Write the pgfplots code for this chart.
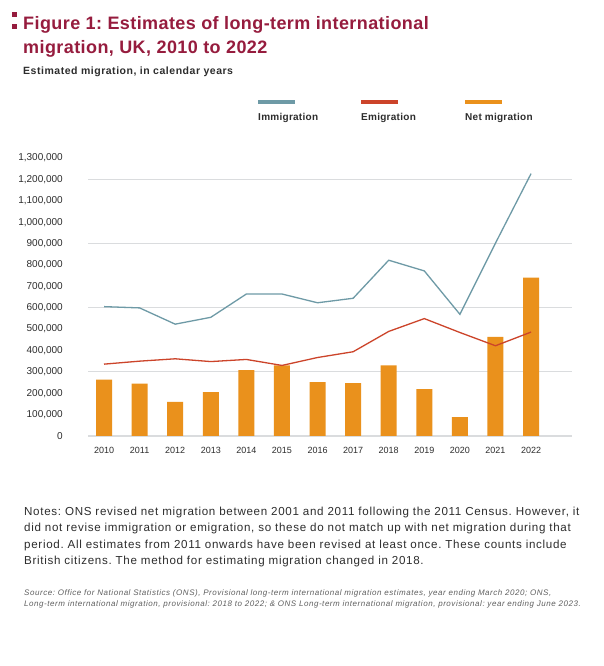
\documentclass[border=0pt]{standalone}
\usepackage{pgfplots}
\pgfplotsset{compat=1.18}
\usepackage{fontspec}
\setmainfont{Liberation Sans}
\definecolor{titlered}{RGB}{150,28,62}
\definecolor{immig}{RGB}{110,154,166}
\definecolor{emig}{RGB}{204,68,42}
\definecolor{netm}{RGB}{234,145,28}
\definecolor{gridc}{RGB}{218,220,222}
\definecolor{txt}{RGB}{45,45,45}
\definecolor{srcc}{RGB}{95,95,95}
\newcommand{\ls}[1]{\addfontfeature{LetterSpace=#1}}
\begin{document}
\frenchspacing
\begin{tikzpicture}
\useasboundingbox[fill=white] (0,0) rectangle (604bp,666bp);
% title marks
\fill[titlered] (12bp,649bp) rectangle (17bp,654bp);
\fill[titlered] (12bp,637bp) rectangle (17bp,642bp);
\node[anchor=base west, inner sep=0pt, text=titlered, font=\fontsize{18bp}{20bp}\selectfont\bfseries\ls{2.3}] at (23bp,636bp) {Figure 1: Estimates of long-term international};
\node[anchor=base west, inner sep=0pt, text=titlered, font=\fontsize{18bp}{20bp}\selectfont\bfseries\ls{2.3}] at (23bp,612bp) {migration, UK, 2010 to 2022};
\node[anchor=base west, inner sep=0pt, text=txt, font=\fontsize{10.5bp}{12bp}\selectfont\bfseries\ls{5}] at (23bp,591bp) {Estimated migration, in calendar years};
% legend
\draw[immig, line width=4bp] (258bp,564bp) -- (295bp,564bp);
\draw[emig, line width=4bp] (361bp,564bp) -- (398bp,564bp);
\draw[netm, line width=4bp] (465bp,564bp) -- (502bp,564bp);
\node[anchor=base west, inner sep=0pt, text=txt, font=\fontsize{10bp}{11bp}\selectfont\bfseries\ls{2.7}] at (258bp,545bp) {Immigration};
\node[anchor=base west, inner sep=0pt, text=txt, font=\fontsize{10bp}{11bp}\selectfont\bfseries\ls{2.7}] at (361bp,545bp) {Emigration};
\node[anchor=base west, inner sep=0pt, text=txt, font=\fontsize{10bp}{11bp}\selectfont\bfseries\ls{2.7}] at (465bp,545bp) {Net migration};
\begin{axis}[
  at={(88bp,230bp)}, anchor=south west, scale only axis,
  width=484bp, height=278bp,
  xmin=-0.45, xmax=13.15, ymin=0, ymax=1300000,
  axis line style={draw=none}, major tick length=0pt, tick style={draw=none},
  xtick={0,1,2,3,4,5,6,7,8,9,10,11,12},
  xticklabels={2010,2011,2012,2013,2014,2015,2016,2017,2018,2019,2020,2021,2022},
  ytick={0,100000,200000,300000,400000,500000,600000,700000,800000,900000,1000000,1100000,1200000,1300000},
  scaled y ticks=false,
  /pgf/number format/fixed,
  /pgf/number format/1000 sep={,},
  /pgf/number format/assume math mode=true,
  yticklabel style={anchor=east, inner sep=0pt, xshift=-25bp, text=txt, font=\fontsize{10bp}{11bp}\selectfont},
  xticklabel style={anchor=north, inner sep=0pt, yshift=-11bp, text=txt, font=\fontsize{9bp}{10bp}\selectfont},
  extra y ticks={0,300000,600000,900000,1200000},
  extra y tick labels={},
  extra y tick style={grid=major},
  major grid style={gridc, line width=1.3bp},
]
\addplot[ybar, bar width=16bp, bar shift=0pt, fill=netm, draw=none] coordinates {
(0,264000) (1,245000) (2,159000) (3,205000) (4,308000) (5,330000) (6,252000)
(7,247000) (8,330000) (9,219000) (10,88000) (11,463000) (12,741000)};
\addplot[immig, line width=1.3bp, mark=none] coordinates {
(0,605000) (1,599000) (2,523000) (3,555000) (4,664000) (5,664000) (6,623000)
(7,644000) (8,822000) (9,772000) (10,569000) (11,902000) (12,1227000)};
\addplot[emig, line width=1.3bp, mark=none] coordinates {
(0,336000) (1,350000) (2,361000) (3,348000) (4,358000) (5,330000) (6,367000)
(7,394000) (8,489000) (9,549000) (10,484000) (11,422000) (12,486000)};
\end{axis}
% notes
\node[anchor=base west, inner sep=0pt, text=txt, font=\fontsize{11.6bp}{13bp}\selectfont\ls{5.9}] at (24bp,150bp) {Notes: ONS revised net migration between 2001 and 2011 following the 2011 Census. However, it};
\node[anchor=base west, inner sep=0pt, text=txt, font=\fontsize{11.6bp}{13bp}\selectfont\ls{5.9}] at (24bp,134bp) {did not revise immigration or emigration, so these do not match up with net migration during that};
\node[anchor=base west, inner sep=0pt, text=txt, font=\fontsize{11.6bp}{13bp}\selectfont\ls{5.9}] at (24bp,117bp) {period. All estimates from 2011 onwards have been revised at least once. These counts include};
\node[anchor=base west, inner sep=0pt, text=txt, font=\fontsize{11.6bp}{13bp}\selectfont\ls{5.9}] at (24bp,101bp) {British citizens. The method for estimating migration changed in 2018.};
\node[anchor=base west, inner sep=0pt, text=srcc, font=\fontsize{8bp}{9bp}\selectfont\itshape\ls{6.8}] at (24bp,70bp) {Source: Office for National Statistics (ONS), Provisional long-term international migration estimates, year ending March 2020; ONS,};
\node[anchor=base west, inner sep=0pt, text=srcc, font=\fontsize{8bp}{9bp}\selectfont\itshape\ls{6.8}] at (24bp,59bp) {Long-term international migration, provisional: 2018 to 2022; \& ONS Long-term international migration, provisional: year ending June 2023.};
\end{tikzpicture}
\end{document}
